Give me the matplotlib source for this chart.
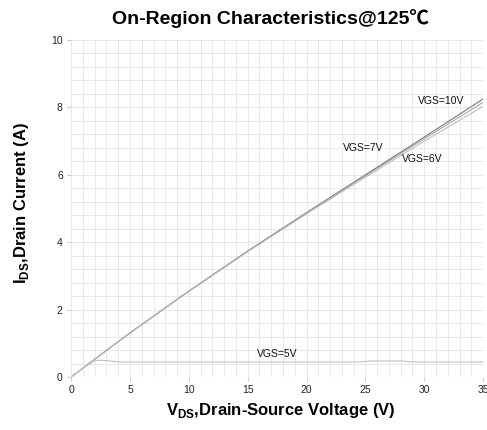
import matplotlib
matplotlib.use("Agg")
import matplotlib.pyplot as plt
from matplotlib.ticker import MultipleLocator

plt.rcParams['font.family'] = ['Liberation Sans', 'Noto Sans CJK SC', 'DejaVu Sans']
plt.rcParams['mathtext.fontset'] = 'custom'
plt.rcParams['mathtext.rm'] = 'Liberation Sans'
plt.rcParams['mathtext.bf'] = 'Liberation Sans:bold'

vds_10 = [0, 2, 5, 10, 15, 20, 25, 30, 35]
id_10 = [0, 0.53, 1.31, 2.55, 3.74, 4.88, 6.00, 7.12, 8.25]
vds_7 = [0, 2, 5, 10, 15, 20, 25, 30, 35]
id_7 = [0, 0.53, 1.31, 2.55, 3.73, 4.87, 5.97, 7.07, 8.15]
vds_6 = [0, 2, 5, 10, 15, 20, 25, 30, 35]
id_6 = [0, 0.53, 1.31, 2.54, 3.72, 4.84, 5.93, 7.00, 8.03]
vds_5 = [0, 1, 2, 2.5, 3, 4, 10, 15, 20, 24.5, 25.5, 28, 29, 35]
id_5 = [0, 0.26, 0.49, 0.50, 0.49, 0.45, 0.45, 0.45, 0.45, 0.45, 0.48, 0.48, 0.45, 0.45]

labels = ["VGS=10V", "VGS=7V", "VGS=6V", "VGS=5V"]
label_pos = [(31.4, 8.2), (24.8, 6.8), (29.8, 6.47), (17.5, 0.68)]

fig = plt.figure(figsize=(4.87, 4.30), dpi=100)
ax = fig.add_axes([0.146, 0.123, 0.846, 0.784])

ax.plot(vds_10, id_10, color='#7a7a7a', lw=0.8)
ax.plot(vds_7, id_7, color='#a0a0a0', lw=0.7)
ax.plot(vds_6, id_6, color='#b8b8b8', lw=0.7)
ax.plot(vds_5, id_5, color='#c0c0c0', lw=0.8)

for t, (x, y) in zip(labels, label_pos):
    ax.text(x, y, t, fontsize=7.5, ha='center', va='center', color='#111111')

ax.set_xlim(0, 35)
ax.set_ylim(0, 10)
ax.xaxis.set_major_locator(MultipleLocator(5))
ax.yaxis.set_major_locator(MultipleLocator(2))
ax.xaxis.set_minor_locator(MultipleLocator(1))
ax.yaxis.set_minor_locator(MultipleLocator(0.4))
ax.grid(True, which='both', color='#e8e8e8', lw=0.7)
ax.set_axisbelow(True)
for s in ax.spines.values():
    s.set_visible(False)
ax.tick_params(which='major', length=3, color='#cccccc', labelsize=7.5, pad=3,
               labelcolor='#222222')
ax.tick_params(which='minor', length=0)

fig.text(0.555, 0.958, "On-Region Characteristics@125℃", fontsize=14, fontweight='bold',
         ha='center', va='center')
fig.text(0.577, 0.045, r"$\mathbf{V}_{\mathbf{DS}}$,Drain-Source Voltage (V)", fontsize=12,
         fontweight='bold', ha='center', va='center')
fig.text(0.045, 0.528, r"$\mathbf{I}_{\mathbf{DS}}$,Drain Current (A)", fontsize=12,
         fontweight='bold', ha='center', va='center', rotation=90)

fig.savefig("out.png", dpi=100)
